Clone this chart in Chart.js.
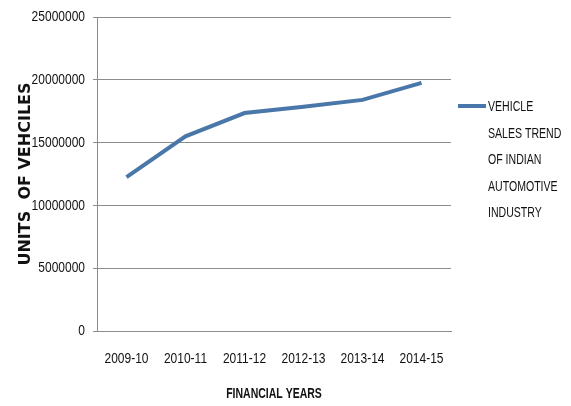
<!DOCTYPE html>
<html>
<head>
<meta charset="utf-8">
<script src="https://cdn.jsdelivr.net/npm/chart.js@4"></script>
<style>
  html, body { margin: 0; padding: 0; background: #fff; }
  #wrap { width: 571px; height: 406px; }
</style>
</head>
<body>
<div id="wrap"><canvas id="c" width="571" height="406"></canvas></div>
<script>
const years = ['2009-10', '2010-11', '2011-12', '2012-13', '2013-14', '2014-15'];
const vehicleSales = [12250000, 15500000, 17350000, 17850000, 18400000, 19750000];
const seriesLabel = ['VEHICLE', 'SALES TREND', 'OF INDIAN', 'AUTOMOTIVE', 'INDUSTRY'];

const narrow = "'Liberation Sans', Arial, sans-serif";

const ctx = document.getElementById('c').getContext('2d');

// the original uses a tall, narrow face; no condensed font is installed,
// so squeeze Liberation Sans text horizontally around its anchor point
const plainFill = ctx.fillText;
ctx.fillText = function (text, x, y, maxWidth) {
    if (this.font.indexOf('Liberation') < 0) {
        return plainFill.call(this, text, x, y);
    }
    const sx = this.font.indexOf('bold') >= 0 ? 0.7 : 0.8;
    this.save();
    this.translate(x, y);
    this.scale(sx, 1);
    plainFill.call(this, text, 0, 0);
    this.restore();
};

// legend drawn by hand so the label can wrap over several lines like the original
const sideLegend = {
    id: 'sideLegend',
    afterDraw(chart) {
        const c = chart.ctx;
        const ds = chart.data.datasets[0];
        const x = 458;
        const y = 106;
        c.save();
        c.strokeStyle = ds.borderColor;
        c.lineWidth = 4;
        c.beginPath();
        c.moveTo(x, y);
        c.lineTo(x + 28, y);
        c.stroke();
        c.fillStyle = '#111';
        c.font = '15px ' + narrow;
        c.textBaseline = 'middle';
        c.textAlign = 'left';
        seriesLabel.forEach((line, i) => {
            c.save();
            c.translate(x + 30, y + 1 + i * 26.5);
            c.scale(0.88, 1);
            c.fillText(line, 0, 0);
            c.restore();
        });
        c.restore();
    }
};

const chart = new Chart(ctx, {
    type: 'line',
    data: {
        labels: years,
        datasets: [{
            label: seriesLabel.join(' '),
            data: vehicleSales,
            borderColor: '#4a77a9',
            borderWidth: 4,
            pointRadius: 0,
            tension: 0,
            fill: false
        }]
    },
    options: {
        responsive: false,
        animation: false,
        layout: { padding: { left: 0, right: 120, top: 16, bottom: 0 } },
        scales: {
            x: {
                offset: true,
                afterFit: scale => { scale.height = 75; },
                grid: { display: false },
                border: { display: true, color: '#8c8c8c', width: 1 },
                ticks: {
                    color: '#111',
                    font: { family: narrow, size: 15 },
                    padding: 11,
                    autoSkip: false,
                    maxRotation: 0
                },
                title: {
                    display: true,
                    text: 'FINANCIAL YEARS',
                    color: '#111',
                    font: { family: narrow, size: 15, weight: 'bold' },
                    padding: { top: 0, bottom: 3 }
                }
            },
            y: {
                min: 0,
                max: 25000000,
                afterFit: scale => { scale.width = 97; },
                grid: { color: '#8c8c8c', lineWidth: 1, tickLength: 4 },
                border: { display: true, color: '#8c8c8c', width: 1 },
                ticks: {
                    stepSize: 5000000,
                    color: '#111',
                    padding: 8,
                    font: { family: narrow, size: 15 },
                    callback: v => String(v)
                },
                title: {
                    display: true,
                    text: 'UNITS  OF VEHCILES',
                    color: '#111',
                    font: { family: "'DejaVu Sans', sans-serif", size: 16, weight: 'bold' },
                    padding: { top: 16, bottom: 0 }
                }
            }
        },
        plugins: {
            legend: { display: false },
            tooltip: { enabled: false }
        }
    },
    plugins: [sideLegend]
});
</script>
</body>
</html>
